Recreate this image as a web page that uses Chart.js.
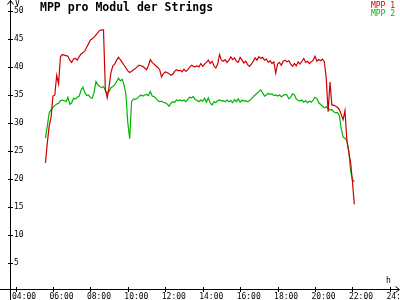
<!DOCTYPE html>
<html>
<head>
<meta charset="utf-8">
<script src="https://cdn.jsdelivr.net/npm/chart.js"></script>
<style>
  html, body { margin: 0; padding: 0; background: #fff; }
  canvas { display: block; }
</style>
</head>
<body>
<canvas id="myChart" width="400" height="300"></canvas>
<script>
const chartTitle = 'MPP pro Modul der Strings';
const seriesNames = ['MPP 1', 'MPP 2'];
const yUnit = 'V';
const xUnit = 'h';

// one reading every 6 minutes
const times = [
    '05:36', '05:42', '05:48', '05:54',
    '06:00', '06:06', '06:12', '06:18', '06:24', '06:30', '06:36', '06:42', '06:48', '06:54',
    '07:00', '07:06', '07:12', '07:18', '07:24', '07:30', '07:36', '07:42', '07:48', '07:54',
    '08:00', '08:06', '08:12', '08:18', '08:24', '08:30', '08:36', '08:42', '08:48', '08:54',
    '09:00', '09:06', '09:12', '09:18', '09:24', '09:30', '09:36', '09:42', '09:48', '09:54',
    '10:00', '10:06', '10:12', '10:18', '10:24', '10:30', '10:36', '10:42', '10:48', '10:54',
    '11:00', '11:06', '11:12', '11:18', '11:24', '11:30', '11:36', '11:42', '11:48', '11:54',
    '12:00', '12:06', '12:12', '12:18', '12:24', '12:30', '12:36', '12:42', '12:48', '12:54',
    '13:00', '13:06', '13:12', '13:18', '13:24', '13:30', '13:36', '13:42', '13:48', '13:54',
    '14:00', '14:06', '14:12', '14:18', '14:24', '14:30', '14:36', '14:42', '14:48', '14:54',
    '15:00', '15:06', '15:12', '15:18', '15:24', '15:30', '15:36', '15:42', '15:48', '15:54',
    '16:00', '16:06', '16:12', '16:18', '16:24', '16:30', '16:36', '16:42', '16:48', '16:54',
    '17:00', '17:06', '17:12', '17:18', '17:24', '17:30', '17:36', '17:42', '17:48', '17:54',
    '18:00', '18:06', '18:12', '18:18', '18:24', '18:30', '18:36', '18:42', '18:48', '18:54',
    '19:00', '19:06', '19:12', '19:18', '19:24', '19:30', '19:36', '19:42', '19:48', '19:54',
    '20:00', '20:06', '20:12', '20:18', '20:24', '20:30', '20:36', '20:42', '20:48', '20:54',
    '21:00', '21:06', '21:12', '21:18', '21:24', '21:30', '21:36', '21:42', '21:48', '21:54',
    '22:00', '22:06'
];

const mpp1 = [
    22.9, 26.5, 29.5, 31.0,
    34.8, 35.0, 38.5, 37.0, 41.8, 42.2, 42.1, 42.0, 41.9, 41.2,
    40.8, 41.4, 41.5, 41.2, 41.8, 42.3, 42.5, 42.8, 43.5, 44.1,
    44.8, 45.0, 45.3, 45.7, 46.1, 46.5, 46.6, 46.6, 36.0, 34.5,
    36.5, 39.0, 40.2, 40.5, 41.2, 41.7, 41.3, 40.8, 40.3, 39.8,
    39.3, 39.0, 39.2, 39.5, 39.7, 40.0, 40.3, 40.2, 40.1, 39.8,
    39.5, 40.2, 41.3, 40.8, 40.5, 40.2, 39.9, 39.5, 38.2, 38.8,
    39.1, 39.0, 38.8, 38.5, 38.7, 39.2, 39.5, 39.3, 39.4, 39.1,
    39.6, 39.2, 39.5, 39.9, 40.3, 40.1, 40.0, 40.2, 40.0, 40.6,
    40.1, 40.5, 40.8, 41.2, 40.6, 41.0, 40.2, 39.8, 40.5, 42.2,
    41.2, 41.0, 41.3, 40.8, 41.2, 41.8, 41.3, 41.6, 41.0, 40.8,
    41.7, 41.2, 40.7, 41.0, 40.4, 40.1, 40.5, 41.0, 41.6, 41.2,
    41.8, 41.5, 41.7, 41.2, 41.4, 40.8, 41.1, 40.6, 40.9, 38.9,
    40.5, 40.8, 40.3, 41.0, 41.2, 40.9, 41.1, 40.5, 40.1, 40.6,
    40.2, 40.9, 40.5, 41.0, 41.5, 40.8, 41.0, 40.6, 40.9, 41.2,
    41.9, 41.0, 41.3, 41.1, 41.4, 40.9, 38.0, 32.0, 37.3, 33.2,
    33.2, 33.0, 32.8, 32.4, 31.5, 30.6, 32.2, 27.0, 24.8, 23.0,
    19.5, 15.5
];

const mpp2 = [
    27.3, 29.5, 31.8, 32.4,
    32.8, 33.1, 33.4, 33.5, 34.0, 34.1, 34.0, 33.8, 34.6, 33.3,
    33.6, 34.4, 34.3, 34.6, 34.8, 35.8, 36.4, 35.5, 34.9, 35.0,
    34.5, 34.4, 35.5, 37.4, 36.8, 36.5, 36.3, 36.5, 35.8, 35.3,
    35.6, 36.3, 36.5, 36.8, 37.4, 38.0, 37.5, 37.8, 36.8, 35.0,
    30.0, 27.2, 33.8, 34.3, 34.2, 34.4, 34.7, 35.0, 34.8, 35.0,
    35.1, 34.9, 35.6, 34.8, 34.7, 34.4, 34.0, 33.8, 33.9, 33.7,
    33.6, 33.4, 33.0, 33.5, 33.8, 33.7, 34.1, 34.0, 34.1, 33.9,
    34.1, 33.8, 34.2, 34.6, 34.5, 34.7, 34.2, 34.0, 33.8, 34.1,
    33.9, 34.4, 33.7, 34.5, 33.6, 33.2, 33.8, 33.6, 34.0, 34.1,
    33.9, 34.0, 33.8, 34.1, 33.8, 34.0, 33.6, 34.2, 33.8, 34.3,
    33.7, 34.1, 33.9, 34.0, 33.8, 34.0, 34.3, 34.7, 35.0, 35.3,
    35.6, 35.9, 35.4, 34.8, 35.0, 35.3, 35.1, 35.2, 34.9, 35.0,
    34.8, 35.0, 34.7, 34.9, 35.1, 35.0, 34.3, 34.6, 35.2, 35.0,
    34.3, 34.0, 33.9, 34.1, 33.7, 34.0, 33.6, 33.9, 33.7, 34.1,
    34.6, 34.4, 33.6, 33.3, 33.0, 32.7, 32.9, 32.6, 32.3, 32.4,
    32.0, 31.8, 31.9, 31.3, 29.0, 27.5, 27.3, 26.8, 25.2, 21.5,
    20.0, 19.5
];

const xTicks = [4, 6, 8, 10, 12, 14, 16, 18, 20, 22, 24];
const xTickLabels = ['04:00', '06:00', '08:00', '10:00', '12:00', '14:00', '16:00', '18:00', '20:00', '22:00', '24:00'];
const yTicks = [5, 10, 15, 20, 25, 30, 35, 40, 45, 50];

const colors = ['#cc0000', '#00b400'];
const monoFont = "'DejaVu Sans Mono', monospace";

function toHours(s) {
    const [h, m] = s.split(':').map(Number);
    return h + m / 60;
}

function toPoints(values) {
    return values.map((v, i) => ({ x: toHours(times[i]), y: v }));
}

// axes with arrows and cross ticks, title, legend
const frame = {
    id: 'frame',
    afterDraw(chart) {
        const { ctx, chartArea, scales } = chart;
        const ax = chartArea.left + 0.5;
        const ay = chartArea.bottom + 0.5;

        ctx.save();
        ctx.strokeStyle = '#000';
        ctx.lineWidth = 1;
        ctx.beginPath();
        ctx.moveTo(ax, 0);
        ctx.lineTo(ax, 300);
        ctx.moveTo(0, ay);
        ctx.lineTo(399, ay);
        // arrows
        ctx.moveTo(ax - 3, 4.5);
        ctx.lineTo(ax, 0.5);
        ctx.lineTo(ax + 3, 4.5);
        ctx.moveTo(395.5, ay - 3);
        ctx.lineTo(399.5, ay);
        ctx.lineTo(395.5, ay + 3);

        yTicks.forEach(v => {
            const py = Math.round(scales.y.getPixelForValue(v)) + 0.5;
            ctx.moveTo(ax - 2.5, py);
            ctx.lineTo(ax + 2.5, py);
        });
        xTicks.forEach(v => {
            const px = Math.round(scales.x.getPixelForValue(v)) + 0.5;
            ctx.moveTo(px, ay - 2.5);
            ctx.lineTo(px, ay + 2.5);
        });
        ctx.stroke();

        ctx.fillStyle = '#000';
        ctx.textBaseline = 'alphabetic';
        ctx.font = 'bold 11.5px ' + monoFont;
        ctx.textAlign = 'left';
        ctx.fillText(chartTitle, 40, 11);

        ctx.font = '8px ' + monoFont;
        ctx.fillText(yUnit, 15, 5.5);
        ctx.fillText(xUnit, 386, 283);

        ctx.textAlign = 'right';
        seriesNames.forEach((name, i) => {
            ctx.fillStyle = colors[i];
            ctx.fillText(name, 395, 7.5 + i * 8);
        });
        ctx.restore();
    }
};

function noPadding(scale) {
    scale.paddingLeft = 0;
    scale.paddingRight = 0;
    scale.paddingTop = 0;
    scale.paddingBottom = 0;
}

new Chart(document.getElementById('myChart'), {
    type: 'line',
    data: {
        datasets: [{
            label: seriesNames[0],
            data: toPoints(mpp1),
            borderColor: colors[0],
            borderWidth: 1.2,
            pointRadius: 0,
            tension: 0
        }, {
            label: seriesNames[1],
            data: toPoints(mpp2),
            borderColor: colors[1],
            borderWidth: 1.2,
            pointRadius: 0,
            tension: 0
        }]
    },
    options: {
        responsive: false,
        animation: false,
        events: [],
        layout: {
            padding: { top: 1, right: 1, left: 0, bottom: 0 }
        },
        scales: {
            x: {
                type: 'linear',
                min: 3.706,
                max: 24.486,
                grid: { display: false, drawTicks: false },
                border: { display: false },
                afterBuildTicks: s => { s.ticks = xTicks.map(v => ({ value: v })); },
                afterFit: s => { noPadding(s); s.height = 11; },
                ticks: {
                    autoSkip: false,
                    maxRotation: 0,
                    align: 'start',
                    labelOffset: -3.5,
                    padding: 3,
                    color: '#000',
                    font: { family: monoFont, size: 8 },
                    callback: v => xTickLabels[xTicks.indexOf(v)]
                }
            },
            y: {
                min: 0.43,
                max: 51.74,
                grid: { display: false, drawTicks: false },
                border: { display: false },
                afterBuildTicks: s => { s.ticks = yTicks.map(v => ({ value: v })); },
                afterFit: s => { noPadding(s); s.width = 10; },
                ticks: {
                    mirror: true,
                    padding: 4,
                    color: '#000',
                    font: { family: monoFont, size: 8 },
                    callback: v => String(v)
                }
            }
        },
        plugins: {
            legend: { display: false },
            tooltip: { enabled: false }
        }
    },
    plugins: [frame]
});
</script>
</body>
</html>
